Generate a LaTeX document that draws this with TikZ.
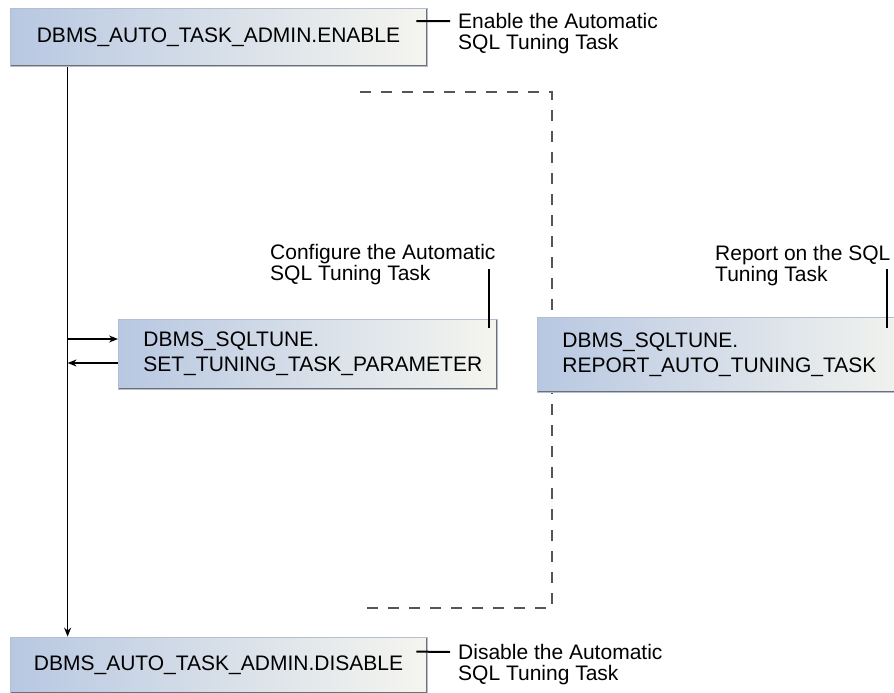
\documentclass[tikz,border=0pt]{standalone}
\usepackage{fontspec}
\setmainfont{Liberation Sans}
\usetikzlibrary{arrows.meta}
\definecolor{boxblue}{HTML}{B8C8E2}
\definecolor{boxwhite}{HTML}{F5F5EF}
\definecolor{boxedge}{HTML}{B4BECE}
\definecolor{boxshade}{HTML}{6E7074}
\definecolor{framegray}{HTML}{555555}

\begin{document}
\begin{tikzpicture}[
  x=1pt, y=-1pt,
  font=\fontsize{21}{25}\selectfont,
  apibox/.style={rectangle, left color=boxblue, right color=boxwhite, draw=boxedge, line width=0.8pt,
    path picture={\draw[boxshade, line width=2.6pt] (path picture bounding box.north east) -- (path picture bounding box.south east) -- (path picture bounding box.south west);}},
  adminbox/.style={apibox, minimum width=417pt, minimum height=58pt, inner sep=0pt},
  tunebox/.style={apibox, anchor=west, align=left, inner xsep=25pt, inner ysep=0pt},
  note/.style={anchor=base west, align=left, inner sep=0pt, font=\fontsize{21}{21}\selectfont},
  flow/.style={-{Stealth[length=9pt, width=7pt]}, line width=1.4pt},
  callout/.style={line width=2pt},
  frame/.style={draw=framegray, line width=1.3pt, dash pattern=on 11pt off 10pt}
]
\useasboundingbox (0,0) rectangle (894,693);

\draw[frame] (360,92) -- (552,92) -- (552,608) -- (358,608);

\node[adminbox] (enable) at (218.5,37.5) {DBMS\_AUTO\_TASK\_ADMIN.ENABLE};
\node[adminbox, minimum height=56pt] (disable) at (218.5,665) {DBMS\_AUTO\_TASK\_ADMIN.DISABLE};

\node[tunebox, text width=329pt, minimum height=70pt] (setparam) at (118,354)
  {DBMS\_SQLTUNE.\\SET\_TUNING\_TASK\_PARAMETER};
\node[tunebox, text width=335pt, minimum height=75pt] (report) at (537,354.5)
  {DBMS\_SQLTUNE.\\REPORT\_AUTO\_TUNING\_TASK};

\node[note] (enablenote) at (458,49.5) {Enable the Automatic\\SQL Tuning Task};
\node[note] (disablenote) at (458,680.5) {Disable the Automatic\\SQL Tuning Task};
\node[note] (confignote) at (270,280.5) {Configure the Automatic\\SQL Tuning Task};
\node[note] (reportnote) at (715,281.5) {Report on the SQL\\Tuning Task};

\coordinate (trunk) at ([xshift=58pt]enable.south west);
\draw[flow] (trunk) -- ([xshift=58pt]disable.north west);
\draw[flow] ([yshift=15pt]setparam.west -| trunk) -- ([yshift=15pt]setparam.west);
\draw[flow] ([yshift=-9pt]setparam.west) -- ([yshift=-9pt]setparam.west -| trunk);

\draw[callout] ([xshift=-11pt, yshift=-13pt]enable.north east) -- ([xshift=-8pt, yshift=28.5pt]enablenote.base west);
\draw[callout] ([xshift=-11pt, yshift=-15pt]disable.north east) -- ([xshift=-8pt, yshift=28.5pt]disablenote.base west);
\draw[callout] ([xshift=-9pt, yshift=-9pt]setparam.north east) -- ++(0,-59);
\draw[callout] ([xshift=350pt, yshift=-11pt]report.north west) -- ++(0,-59);

\end{tikzpicture}
\end{document}
